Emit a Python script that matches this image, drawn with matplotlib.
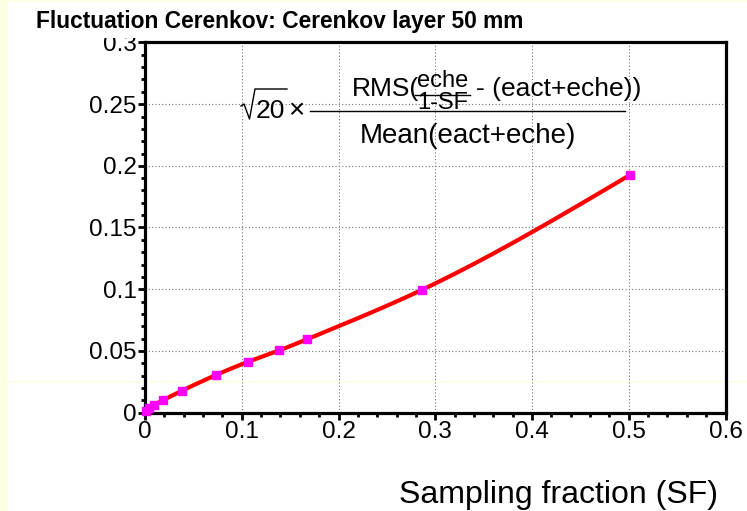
import numpy as np
import matplotlib
matplotlib.use("Agg")
import matplotlib.pyplot as plt
from matplotlib.lines import Line2D
from matplotlib.patches import Rectangle

# Fluctuation of the Cerenkov signal versus sampling fraction
sampling_fraction = [0.0007, 0.0040, 0.0093, 0.0189, 0.0380, 0.0734, 0.1068,
                     0.1386, 0.1672, 0.2861, 0.5008]
fluctuation = [0.0010, 0.0034, 0.0061, 0.0101, 0.0176, 0.0304, 0.0412,
               0.0503, 0.0593, 0.0994, 0.1924]

x_ticks = [0.0, 0.1, 0.2, 0.3, 0.4, 0.5, 0.6]
x_tick_labels = ["0", "0.1", "0.2", "0.3", "0.4", "0.5", "0.6"]
y_ticks = [0.0, 0.05, 0.10, 0.15, 0.20, 0.25, 0.30]
y_tick_labels = ["0", "0.05", "0.1", "0.15", "0.2", "0.25", "0.3"]

title = "Fluctuation Cerenkov: Cerenkov layer 50 mm"
x_label = "Sampling fraction (SF)"

W, H = 747, 511
FONT = "Liberation Sans"
YELLOW = "#ffffe4"


def fx(px):
    return px / W


def fy(py):
    return 1.0 - py / H


def natural_spline(x, y, xs):
    x = np.asarray(x, float)
    y = np.asarray(y, float)
    n = len(x)
    h = np.diff(x)
    A = np.zeros((n, n))
    r = np.zeros(n)
    A[0, 0] = A[-1, -1] = 1.0
    for i in range(1, n - 1):
        A[i, i - 1] = h[i - 1]
        A[i, i] = 2 * (h[i - 1] + h[i])
        A[i, i + 1] = h[i]
        r[i] = 3 * ((y[i + 1] - y[i]) / h[i] - (y[i] - y[i - 1]) / h[i - 1])
    c = np.linalg.solve(A, r)
    b = (y[1:] - y[:-1]) / h - h * (2 * c[:-1] + c[1:]) / 3
    d = (c[1:] - c[:-1]) / (3 * h)
    idx = np.clip(np.searchsorted(x, xs) - 1, 0, n - 2)
    dx = xs - x[idx]
    return y[idx] + b[idx] * dx + c[idx] * dx ** 2 + d[idx] * dx ** 3


fig = plt.figure(figsize=(W / 100, H / 100), dpi=100)
fig.patch.set_facecolor(YELLOW)
# white canvas area
fig.add_artist(Rectangle((fx(8), 0), 1 - fx(8), fy(2), transform=fig.transFigure,
                         facecolor="white", edgecolor="none", zorder=-10))
# faint horizontal streak
fig.add_artist(Line2D([fx(8), 1], [fy(382), fy(382)], transform=fig.transFigure,
                      color=YELLOW, lw=1.2, zorder=-5))

ax = fig.add_axes([fx(145), fy(412.5), fx(725.5) - fx(145), fy(42.5) - fy(412.5)])
ax.set_facecolor("white")
ax.axhline(0.0247, color=YELLOW, lw=1.2, zorder=0.5)

ax.set_xlim(0, 0.6)
ax.set_ylim(0, 0.3)
ax.set_xticks(x_ticks)
ax.set_xticklabels(x_tick_labels)
ax.set_yticks(y_ticks)
ax.set_yticklabels(y_tick_labels)
ax.set_xticks(np.arange(0, 0.6001, 0.02), minor=True)
ax.set_yticks(np.arange(0, 0.3001, 0.01), minor=True)

for s in ax.spines.values():
    s.set_linewidth(2.3)
    s.set_color("black")

ax.tick_params(which="major", direction="out", length=5, width=2, color="black",
               labelsize=17.5, pad=1)
ax.tick_params(which="minor", direction="out", length=3, width=2, color="black")
ax.tick_params(axis="y", which="both", right=False)
ax.tick_params(axis="x", which="both", top=False)
for lab in ax.get_xticklabels() + ax.get_yticklabels():
    lab.set_family(FONT)

ax.grid(True, which="major", color="#777777", lw=0.8, ls=(0, (1, 2)))
ax.set_axisbelow(True)

xs = np.linspace(min(sampling_fraction), max(sampling_fraction), 400)
ax.plot(xs, natural_spline(sampling_fraction, fluctuation, xs), color="red",
        lw=3.0, zorder=3, solid_capstyle="round")
ax.plot(sampling_fraction, fluctuation, ls="none", marker="s", ms=6.3,
        mfc="#ff00ff", mec="#ff00ff", zorder=4, clip_on=False)

# title pad and title
fig.add_artist(Rectangle((fx(8), fy(38)), 1 - fx(8), fy(2) - fy(38),
                         transform=fig.transFigure, facecolor="white",
                         edgecolor="none", zorder=5))
fig.text(fx(36), fy(28), title, family=FONT, fontweight="bold", fontsize=16.4,
         ha="left", va="baseline", zorder=6)

# axis title
fig.text(fx(718), fy(503), x_label, family=FONT, fontsize=23,
         ha="right", va="baseline")

# formula annotation
fs_num = 19
fs_den = 20
fs_small = 17
fig.add_artist(Line2D([fx(241), fx(244), fx(249.5), fx(255), fx(287)],
                      [fy(106), fy(104), fy(119), fy(89), fy(89)],
                      transform=fig.transFigure, color="black", lw=1.0))
fig.text(fx(256), fy(118), "20", family=FONT, fontsize=19,
         ha="left", va="baseline")
fig.text(fx(288), fy(118), "\u00d7", family=FONT, fontsize=fs_den,
         ha="left", va="baseline")
fig.add_artist(Line2D([fx(310), fx(625)], [fy(111.5), fy(111.5)],
                      transform=fig.transFigure, color="black", lw=1.0))
fig.text(fx(352), fy(96), "RMS(", family=FONT, fontsize=fs_num,
         ha="left", va="baseline")
fig.text(fx(442.5), fy(109), "eche\n1-SF", family=FONT, fontsize=fs_small,
         ha="center", va="baseline", multialignment="center", linespacing=0.98)
fig.add_artist(Line2D([fx(415), fx(470)], [fy(95.5), fy(95.5)],
                      transform=fig.transFigure, color="black", lw=1.0))
fig.text(fx(476), fy(96), "- (eact+eche))", family=FONT, fontsize=fs_num,
         ha="left", va="baseline")
fig.text(fx(467.5), fy(143), "Mean(eact+eche)", family=FONT, fontsize=fs_den,
         ha="center", va="baseline")

fig.savefig("out.png", dpi=100, facecolor=fig.get_facecolor())
